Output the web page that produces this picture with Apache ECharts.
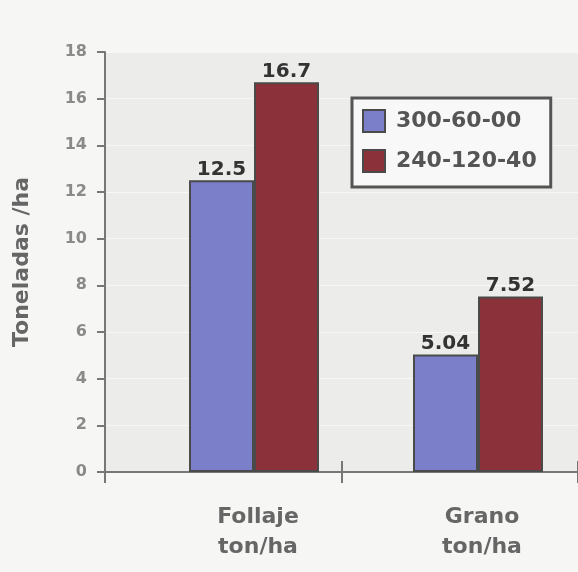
<!DOCTYPE html>
<html>
<head>
<meta charset="utf-8">
<script src="https://cdn.jsdelivr.net/npm/echarts@6/dist/echarts.min.js"></script>
<style>html,body{margin:0;padding:0;background:#f6f6f4;}#c{width:578px;height:572px;}</style>
</head>
<body>
<div id="c"></div>
<script>
var categories = ['Follaje\nton/ha', 'Grano\nton/ha'];
var seriesNames = ['300-60-00', '240-120-40'];
var values300 = [12.5, 5.04];
var values240 = [16.7, 7.52];
var yTicks = [0, 2, 4, 6, 8, 10, 12, 14, 16, 18];

var FONT = 'DejaVu Sans';
var chart = echarts.init(document.getElementById('c'));
var yMin = yTicks[0], yMax = yTicks[yTicks.length - 1], yStep = yTicks[1] - yTicks[0];

chart.setOption({
  backgroundColor: '#f6f6f4',
  animation: false,
  grid: [
    { left: 105, top: 52, right: 0, height: 420, show: true, backgroundColor: '#ececea', borderWidth: 0 },
    { left: 130, top: 52, right: 0, height: 420 }
  ],
  legend: {
    data: seriesNames,
    orient: 'vertical',
    left: 352, top: 98,
    padding: [11, 14, 14, 10],
    itemWidth: 22, itemHeight: 22, itemGap: 16,
    borderWidth: 3, borderColor: '#555',
    backgroundColor: '#f8f8f8',
    icon: 'rect',
    textStyle: { fontFamily: FONT, fontWeight: 'bold', fontSize: 22, color: '#555', padding: [0, 0, 0, 6] }
  },
  xAxis: [
    { type: 'category', gridIndex: 0, data: categories,
      axisLine: { show: true, lineStyle: { color: '#777', width: 2 } },
      axisTick: { show: true, length: 11, lineStyle: { color: '#777', width: 2 } },
      axisLabel: { show: false }, splitLine: { show: false } },
    { type: 'category', gridIndex: 0, data: categories, position: 'bottom',
      axisLine: { show: false },
      axisTick: { show: true, inside: true, length: 11, lineStyle: { color: '#777', width: 2 } },
      axisLabel: { show: false }, splitLine: { show: false } },
    { type: 'category', gridIndex: 1, data: categories,
      axisLine: { show: false }, axisTick: { show: false },
      axisLabel: { fontFamily: FONT, fontWeight: 'bold', fontSize: 22, color: '#666', lineHeight: 30, margin: 30, padding: [0, 0, 0, 32] } }
  ],
  yAxis: [
    { type: 'value', gridIndex: 0, min: yMin, max: yMax, interval: yStep,
      name: 'Toneladas /ha', nameLocation: 'middle', nameGap: 72,
      nameTextStyle: { fontFamily: FONT, fontWeight: 'bold', fontSize: 22, color: '#666' },
      axisLine: { show: true, lineStyle: { color: '#777', width: 2 } },
      axisTick: { show: true, length: 8, lineStyle: { color: '#777', width: 2 } },
      axisLabel: { fontFamily: FONT, fontSize: 16, fontWeight: 'bold', color: '#8a8a8a', margin: 18 },
      splitLine: { show: true, lineStyle: { color: '#f7f7f7', width: 1 } } },
    { type: 'value', gridIndex: 1, min: yMin, max: yMax, interval: yStep, show: false }
  ],
  series: [
    { name: 'spacer', type: 'bar', xAxisIndex: 2, yAxisIndex: 1, data: [],
      barWidth: 24, barGap: '0%', silent: true, itemStyle: { color: 'transparent' } },
    { name: seriesNames[0], type: 'bar', xAxisIndex: 2, yAxisIndex: 1, data: values300,
      barWidth: 65, barGap: '0%',
      itemStyle: { color: '#7b7fca', borderColor: '#4a4a4a', borderWidth: 2 },
      label: { show: true, position: 'top', distance: 1, fontFamily: FONT, fontWeight: 'bold', fontSize: 20, color: '#333' } },
    { name: seriesNames[1], type: 'bar', xAxisIndex: 2, yAxisIndex: 1, data: values240,
      barWidth: 65, barGap: '0%',
      itemStyle: { color: '#8a3139', borderColor: '#4a4a4a', borderWidth: 2 },
      label: { show: true, position: 'top', distance: 1, fontFamily: FONT, fontWeight: 'bold', fontSize: 20, color: '#333' } }
  ]
});
</script>
</body>
</html>
